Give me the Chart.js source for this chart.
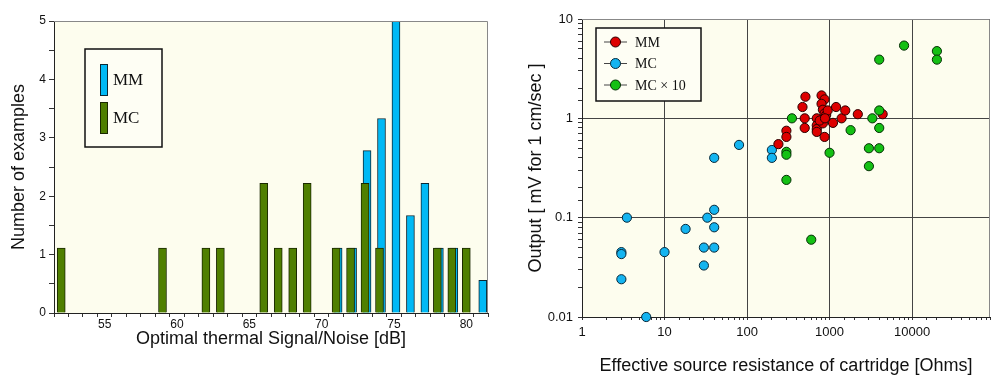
<!DOCTYPE html>
<html>
<head>
<meta charset="utf-8">
<script src="https://cdn.jsdelivr.net/npm/chart.js@4"></script>
<style>
  body { margin: 0; background: #fff; }
  .panel { position: absolute; top: 0; width: 500px; height: 385px; }
  #left { left: 0; }
  #right { left: 500px; }
</style>
</head>
<body>
<div class="panel" id="left"><canvas id="snChart" width="500" height="385"></canvas></div>
<div class="panel" id="right"><canvas id="outChart" width="500" height="385"></canvas></div>
<script>
// left panel: optimal thermal S/N histogram (heights as plotted)
const mmSN    = [71, 72, 73, 74, 75, 76, 77, 78, 79, 81];
const mmCount = [1.11, 1.11, 2.78, 3.33, 5, 1.67, 2.22, 1.11, 1.11, 0.56];
const mcSN    = [52, 59, 62, 63, 66, 67, 68, 69, 71, 72, 73, 74, 78, 79, 80];
const mcCount = [1.11, 1.11, 1.11, 1.11, 2.22, 1.11, 1.11, 2.22, 1.11, 1.11, 2.22, 1.11, 1.11, 1.11, 1.11];
const snLabels = [55, 60, 65, 70, 75, 80];

// right panel: source resistance [Ohms] vs output [mV for 1 cm/sec]
const mmR   = [240, 300, 300, 470, 510, 500, 500, 700, 700, 700, 700, 800, 870, 800, 830, 870, 910, 830, 870, 950, 1100, 1200, 1400, 1550, 2200, 4400, 760, 880];
const mmOut = [0.55, 0.75, 0.65, 1.3, 1.65, 1.0, 0.8, 1.0, 0.85, 0.78, 0.73, 1.7, 1.55, 1.4, 1.22, 1.12, 1.08, 0.89, 0.65, 1.2, 0.9, 1.3, 1.0, 1.2, 1.1, 1.1, 0.95, 1.0];
const mcR   = [3.5, 3, 3, 3, 6, 10, 18, 30, 30, 33, 40, 40, 40, 40, 80, 200, 200];
const mcOut = [0.1, 0.045, 0.043, 0.024, 0.01, 0.045, 0.077, 0.05, 0.033, 0.1, 0.12, 0.08, 0.05, 0.4, 0.54, 0.48, 0.4];
const mc10R   = [300, 300, 300, 350, 600, 1000, 1800, 3000, 3000, 3300, 4000, 4000, 4000, 4000, 8000, 20000, 20000];
const mc10Out = [0.46, 0.43, 0.24, 1.0, 0.06, 0.45, 0.76, 0.5, 0.33, 1.0, 3.9, 1.2, 0.8, 0.5, 5.4, 4.75, 3.9];
const resLabels = [1, 10, 100, 1000, 10000];
const outLabels = [0.01, 0.1, 1, 10];

Chart.defaults.font.family = '"Liberation Sans", Arial, sans-serif';
Chart.defaults.color = '#111';

const pts = (xs, ys) => xs.map((x, i) => ({ x: x, y: ys[i] }));
const isIn = (list, v) => list.some(t => Math.abs(t - v) < 1e-9);

const plotFrame = {
  id: 'plotFrame',
  beforeDraw(chart) {
    const { ctx, chartArea: a } = chart;
    ctx.save();
    ctx.fillStyle = '#fdfdee';
    ctx.fillRect(a.left, a.top, a.width, a.height);
    ctx.restore();
  },
  afterDraw(chart) {
    const { ctx, chartArea: a } = chart;
    ctx.save();
    ctx.strokeStyle = '#888';
    ctx.lineWidth = 1;
    ctx.beginPath();
    ctx.moveTo(a.left, a.top + 0.5);
    ctx.lineTo(a.right - 0.5, a.top + 0.5);
    ctx.lineTo(a.right - 0.5, a.bottom);
    ctx.stroke();
    ctx.restore();
  }
};

// MM bars sit a couple of pixels right of the MC bars in the original
const nudgeMM = {
  id: 'nudgeMM',
  beforeDatasetDraw(chart, args) {
    if (args.index === 0) { chart.ctx.save(); chart.ctx.translate(2, 0); }
  },
  afterDatasetDraw(chart, args) {
    if (args.index === 0) chart.ctx.restore();
  }
};

const barLegend = {
  id: 'barLegend',
  afterDraw(chart) {
    const { ctx, chartArea: a } = chart;
    const x = a.left + 31, y = a.top + 28;
    ctx.save();
    ctx.fillStyle = '#fefef4';
    ctx.fillRect(x, y, 77, 98);
    ctx.strokeStyle = '#111';
    ctx.lineWidth = 1.5;
    ctx.strokeRect(x, y, 77, 98);
    ctx.font = '17px "Liberation Serif", serif';
    ctx.textBaseline = 'middle';
    chart.data.datasets.forEach((ds, i) => {
      const top = y + 15 + i * 38;
      ctx.fillStyle = ds.backgroundColor;
      ctx.fillRect(x + 15, top, 8, 32);
      ctx.strokeStyle = ds.borderColor;
      ctx.lineWidth = 1;
      ctx.strokeRect(x + 15.5, top + 0.5, 7, 31);
      ctx.fillStyle = '#111';
      ctx.fillText(ds.label, x + 28, top + 17);
    });
    ctx.restore();
  }
};

const scatterLegend = {
  id: 'scatterLegend',
  afterDraw(chart) {
    const { ctx, chartArea: a } = chart;
    const x = a.left + 14, y = a.top + 9;
    ctx.save();
    ctx.fillStyle = '#fefef4';
    ctx.fillRect(x, y, 105, 73);
    ctx.strokeStyle = '#111';
    ctx.lineWidth = 1.5;
    ctx.strokeRect(x, y, 105, 73);
    ctx.font = '14px "Liberation Serif", serif';
    ctx.textBaseline = 'middle';
    chart.data.datasets.forEach((ds, i) => {
      const cy = y + 14 + i * 21.5;
      ctx.strokeStyle = '#444';
      ctx.lineWidth = 1;
      ctx.beginPath();
      ctx.moveTo(x + 8, cy);
      ctx.lineTo(x + 31, cy);
      ctx.stroke();
      ctx.beginPath();
      ctx.arc(x + 19.5, cy, 5, 0, Math.PI * 2);
      ctx.fillStyle = ds.backgroundColor;
      ctx.fill();
      ctx.strokeStyle = ds.borderColor;
      ctx.stroke();
      ctx.fillStyle = '#111';
      ctx.fillText(ds.label, x + 39, cy + 1);
    });
    ctx.restore();
  }
};

new Chart(document.getElementById('snChart'), {
  type: 'bar',
  data: {
    datasets: [
      { label: 'MM', data: pts(mmSN, mmCount), backgroundColor: '#00b9f5', borderColor: '#0b2733', borderWidth: 1, order: 2 },
      { label: 'MC', data: pts(mcSN, mcCount), backgroundColor: '#4f7f00', borderColor: '#1a2800', borderWidth: 1, order: 1 }
    ]
  },
  options: {
    responsive: false,
    animation: false,
    devicePixelRatio: 1,
    layout: { padding: { top: 21, right: 12, left: 0, bottom: 0 } },
    datasets: { bar: { barThickness: 8, grouped: false } },
    plugins: { legend: { display: false }, tooltip: { enabled: false } },
    scales: {
      x: {
        type: 'linear', min: 51.5, max: 81.5, offset: false,
        afterBuildTicks(s) {
          const t = [];
          for (let v = 52; v <= 81; v++) t.push({ value: v });
          s.ticks = t;
        },
        afterFit(s) { s.height = 72; },
        grid: { offset: true, drawOnChartArea: false, tickLength: 4, color: '#333' },
        border: { color: '#222' },
        ticks: { autoSkip: false, maxRotation: 0, padding: 0, font: { size: 12 },
          callback: v => isIn(snLabels, v) ? String(v) : '' },
        title: { display: true, text: 'Optimal thermal Signal/Noise [dB]', font: { size: 18 }, color: '#111',
          padding: { top: 0, bottom: 35 } }
      },
      y: {
        min: 0, max: 5,
        afterFit(s) { s.width = 54; },
        grid: { drawOnChartArea: false, tickLength: 5, color: '#333' },
        border: { color: '#222' },
        ticks: { stepSize: 0.5, autoSkip: false, padding: 3, font: { size: 12 },
          callback: v => Number.isInteger(v) ? String(v) : '' },
        title: { display: true, text: 'Number of examples', font: { size: 18 }, color: '#111',
          padding: { top: 8, bottom: 0 } }
      }
    }
  },
  plugins: [plotFrame, nudgeMM, barLegend]
});

const majorOnly = c => (c.tick && c.tick.major) ? '#444' : 'rgba(0,0,0,0)';

new Chart(document.getElementById('outChart'), {
  type: 'scatter',
  data: {
    datasets: [
      { label: 'MM', data: pts(mmR, mmOut), backgroundColor: '#dd0000', borderColor: '#2a0000', order: 2 },
      { label: 'MC', data: pts(mcR, mcOut), backgroundColor: '#14b4f0', borderColor: '#06283a', order: 3 },
      { label: 'MC × 10', data: pts(mc10R, mc10Out), backgroundColor: '#14c014', borderColor: '#053005', order: 1 }
    ]
  },
  options: {
    responsive: false,
    animation: false,
    devicePixelRatio: 1,
    layout: { padding: { top: 19, right: 10, left: 0, bottom: 0 } },
    elements: { point: { radius: 4.6, borderWidth: 1 } },
    datasets: { scatter: { clip: false } },
    plugins: { legend: { display: false }, tooltip: { enabled: false } },
    scales: {
      x: {
        type: 'logarithmic', min: 1, max: 88000,
        afterFit(s) { s.height = 68; },
        grid: { color: majorOnly, tickColor: '#333', tickLength: 3 },
        border: { color: '#222' },
        ticks: { autoSkip: false, maxRotation: 0, padding: 5, font: { size: 13 },
          callback: v => isIn(resLabels, v) ? String(v) : '' },
        title: { display: true, text: 'Effective source resistance of cartridge [Ohms]', font: { size: 18 }, color: '#111',
          padding: { top: 0, bottom: 8 } }
      },
      y: {
        type: 'logarithmic', min: 0.01, max: 10,
        afterFit(s) { s.width = 82; },
        grid: { color: majorOnly, tickColor: '#333', tickLength: 4 },
        border: { color: '#222' },
        ticks: { autoSkip: false, padding: 5, font: { size: 13 },
          callback: v => isIn(outLabels, v) ? String(v) : '' },
        title: { display: true, text: 'Output [ mV for 1 cm/sec ]', font: { size: 18 }, color: '#111',
          padding: { top: 25, bottom: 0 } }
      }
    }
  },
  plugins: [plotFrame, scatterLegend]
});
</script>
</body>
</html>
